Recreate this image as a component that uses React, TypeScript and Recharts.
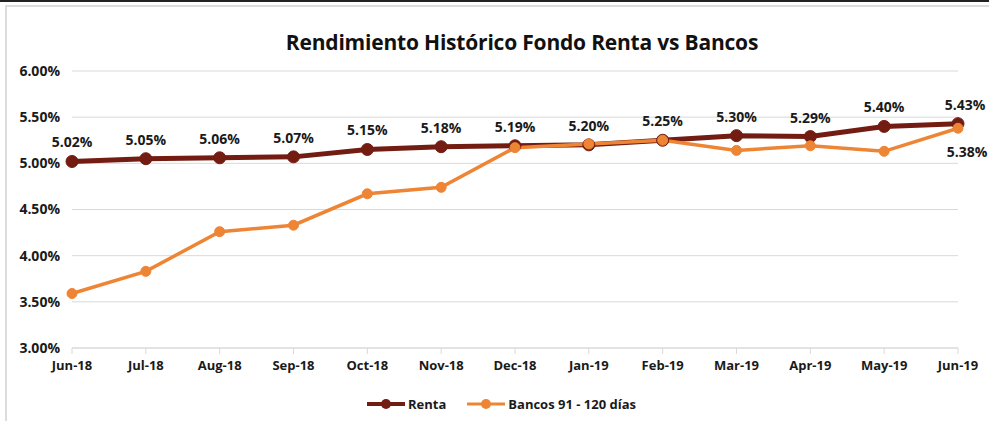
import { LineChart, Line, XAxis, YAxis, CartesianGrid, Legend, LabelList } from 'recharts';

const months = ['Jun-18', 'Jul-18', 'Aug-18', 'Sep-18', 'Oct-18', 'Nov-18', 'Dec-18', 'Jan-19', 'Feb-19', 'Mar-19', 'Apr-19', 'May-19', 'Jun-19'];
const renta = [5.02, 5.05, 5.06, 5.07, 5.15, 5.18, 5.19, 5.2, 5.25, 5.3, 5.29, 5.4, 5.43];
const bancos = [3.59, 3.83, 4.26, 4.33, 4.67, 4.74, 5.17, 5.21, 5.25, 5.14, 5.19, 5.13, 5.38];
const yTicks = [3, 3.5, 4, 4.5, 5, 5.5, 6];

const RENTA = '#731c12';
const BANCOS = '#ee8535';
const FONT = '"Open Sans", sans-serif';

const data = months.map((m, i) => ({ month: m, renta: renta[i], bancos: bancos[i] }));
const last = months.length - 1;

const pct = (v: number) => `${Number(v).toFixed(2)}%`;

function RentaLabel(props: any) {
  const { x, y, value, index } = props;
  const dx = index === last ? 7 : 0;
  return (
    <text x={x + dx} y={y - 14} textAnchor="middle" fontFamily={FONT} fontSize={14} fontWeight={700} fill="#1a1a1a">
      {pct(value)}
    </text>
  );
}

function BancosLabel(props: any) {
  const { x, y, value, index } = props;
  if (index !== last) return null;
  return (
    <text x={x + 9} y={y + 29} textAnchor="middle" fontFamily={FONT} fontSize={14} fontWeight={700} fill="#1a1a1a">
      {pct(value)}
    </text>
  );
}

function LegendIcon({ color, w, r }: { color: string; w: number; r: number }) {
  return (
    <svg width={38} height={14} style={{ display: 'block' }}>
      <line x1={0} y1={7} x2={38} y2={7} stroke={color} strokeWidth={w} />
      <circle cx={19} cy={7} r={r} fill={color} />
    </svg>
  );
}

function ChartLegend() {
  const item = { display: 'flex', alignItems: 'center', gap: 3 } as const;
  const txt = { fontFamily: FONT, fontSize: 13, fontWeight: 700, color: '#1a1a1a' } as const;
  return (
    <div style={{ height: 40, boxSizing: 'border-box', paddingTop: 6, paddingLeft: 14, display: 'flex', justifyContent: 'center', alignItems: 'center', gap: 21 }}>
      <div style={item}>
        <LegendIcon color={RENTA} w={4} r={5} />
        <span style={txt}>Renta</span>
      </div>
      <div style={item}>
        <LegendIcon color={BANCOS} w={3} r={5} />
        <span style={txt}>Bancos 91 - 120 días</span>
      </div>
    </div>
  );
}

export default function App() {
  return (
    <div style={{ position: 'absolute', left: 0, top: 0, width: 989, height: 421, background: '#fff', overflow: 'hidden' }}>
      <div style={{ position: 'absolute', left: 0, top: 0, width: 989, height: 2, background: '#222' }} />
      <div style={{ position: 'absolute', left: 5, top: 5, width: 1100, height: 500, borderTop: '2px solid #dcdcdc', borderLeft: '2px solid #dcdcdc' }} />
      <div style={{ position: 'absolute', left: 0, top: 28, width: 1044, textAlign: 'center', fontFamily: FONT, fontSize: 21, fontWeight: 700, color: '#111', letterSpacing: -0.2 }}>
        Rendimiento Histórico Fondo Renta vs Bancos
      </div>
      <LineChart width={989} height={421} data={data} margin={{ top: 71, right: 31, left: 0, bottom: 0 }} style={{ position: 'absolute', left: 0, top: 0 }}>
        <CartesianGrid vertical={false} stroke="#d9d9d9" />
        <XAxis
          dataKey="month"
          interval={0}
          height={33}
          tick={{ fontFamily: FONT, fontSize: 13, fontWeight: 700, fill: '#1a1a1a' }}
          axisLine={{ stroke: '#d9d9d9' }}
          tickLine={{ stroke: '#d9d9d9' }}
          tickSize={6}
          tickMargin={7}
        />
        <YAxis
          domain={[3, 6]}
          ticks={yTicks}
          width={72}
          tickFormatter={pct}
          tick={{ fontFamily: FONT, fontSize: 14, fontWeight: 700, fill: '#1a1a1a' }}
          axisLine={false}
          tickLine={false}
          tickSize={0}
          tickMargin={12}
        />
        <Legend verticalAlign="bottom" content={<ChartLegend />} wrapperStyle={{ left: 0, width: 989 }} />
        <Line
          dataKey="renta"
          stroke={RENTA}
          strokeWidth={5}
          dot={{ r: 6, fill: RENTA, stroke: RENTA, strokeWidth: 1 }}
          isAnimationActive={false}
        >
          <LabelList dataKey="renta" content={<RentaLabel />} />
        </Line>
        <Line
          dataKey="bancos"
          stroke={BANCOS}
          strokeWidth={3.5}
          dot={{ r: 5, fill: BANCOS, stroke: BANCOS, strokeWidth: 1 }}
          isAnimationActive={false}
        >
          <LabelList dataKey="bancos" content={<BancosLabel />} />
        </Line>
      </LineChart>
    </div>
  );
}
